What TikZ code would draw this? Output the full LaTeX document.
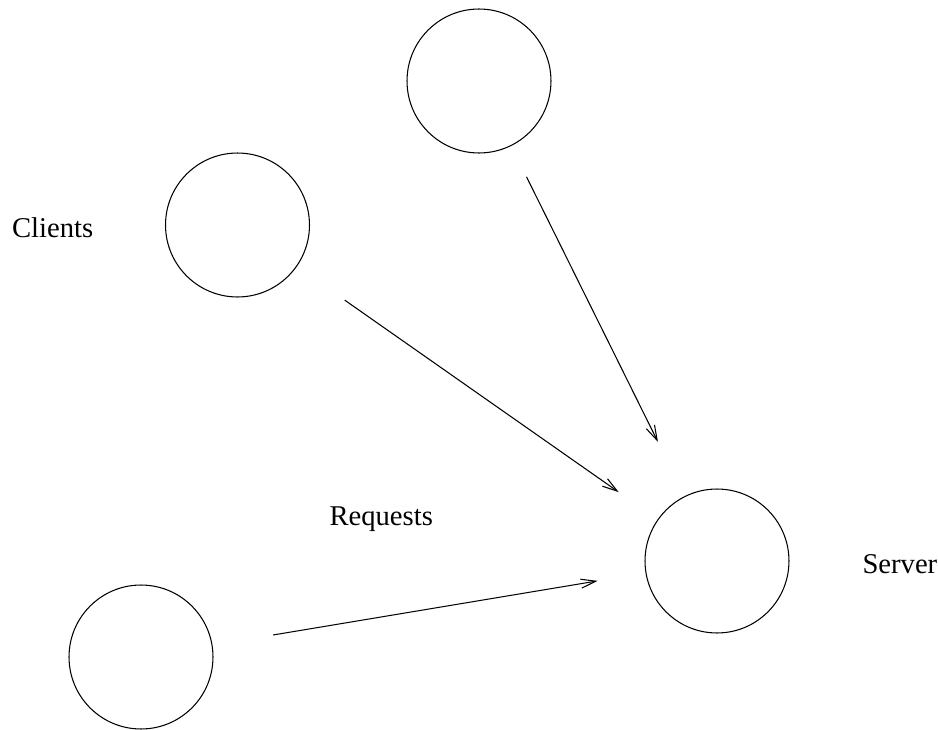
\documentclass[tikz,border=0pt]{standalone}
\usepackage{fontspec}
\setmainfont{Liberation Serif}
\usepackage{tikz}
\usetikzlibrary{arrows.meta}
\tikzset{every node/.style={font=\fontsize{16.3}{19}\selectfont}}

\begin{document}
\begin{tikzpicture}[
  x=0.02cm, y=-0.02cm, line width=0.6pt,
  host/.style={shape=circle, draw, minimum size=2.88cm, inner sep=0pt, outer sep=0pt},
  label/.style={anchor=base west, inner sep=0pt},
  request/.style={-{Straight Barb[length=0.3cm,width=0.18cm]}}
% the gaps at both ends are set with shorten < and shorten >
]
\useasboundingbox (0,0) rectangle (938,730);

\path (479,81) node[host] (c1) {};
\path (237.5,225) node[host] (c2) {};
\path (141,657) node[host] (c3) {};
\path (717,561) node[host] (srv) {};

\path (11.5,237) node[label] (Lcl) {Clients};
\path (329,525) node[label] (Lrq) {Requests};
\path (862,573) node[label] (Lsv) {Server};

\draw[request,shorten <=0.7cm,shorten >=1.22cm] (c1) -- (srv);
\draw[request,shorten <=1.18cm,shorten >=0.96cm] (c2) -- (srv);
\draw[request,shorten <=1.24cm,shorten >=0.98cm] (c3) -- (srv);
\end{tikzpicture}
\end{document}
